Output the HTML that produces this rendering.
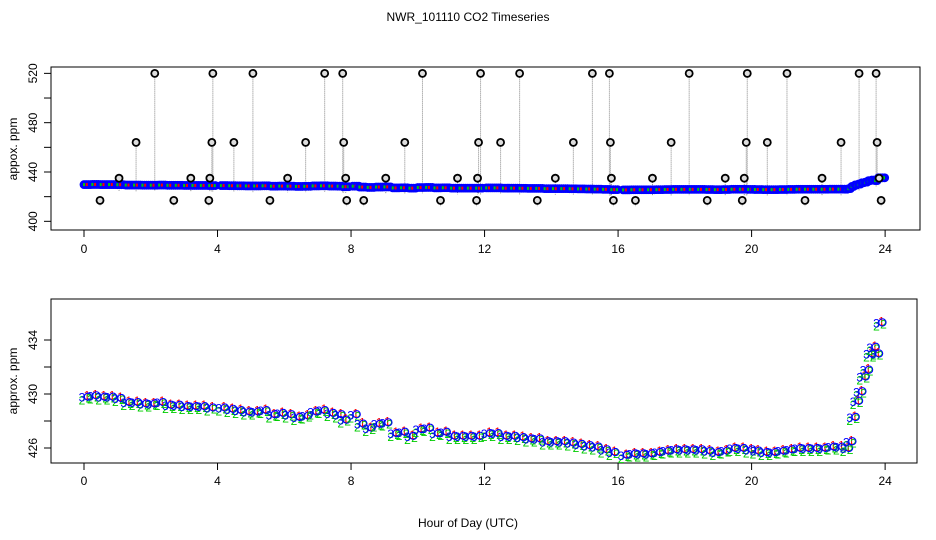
<!DOCTYPE html>
<html><head><meta charset="utf-8"><style>
body{margin:0;background:#fff;}
svg{display:block;font-family:"Liberation Sans",sans-serif;}
</style></head><body>
<svg id="c" width="936" height="540" viewBox="0 0 936 540">
<text x="468" y="21" font-size="12" text-anchor="middle">NWR_101110  CO2 Timeseries</text>
<text x="468" y="527" font-size="12" text-anchor="middle">Hour of Day (UTC)</text>
<text transform="translate(17,149) rotate(-90)" font-size="12" text-anchor="middle">appox. ppm</text>
<text transform="translate(17,381) rotate(-90)" font-size="12" text-anchor="middle">approx. ppm</text>
<rect x="51" y="67" width="869" height="163" fill="none" stroke="#000"/>
<rect x="51" y="299" width="866" height="164" fill="none" stroke="#000"/>
<g id="g"></g>
</svg>
<script>
const hours=[0,0.25,0.5,0.75,1,1.25,1.5,1.75,2,2.25,2.5,2.75,3,3.25,3.5,3.75,4.1,4.35,4.6,4.85,5.1,5.35,5.6,5.85,6.1,6.35,6.6,6.85,7.1,7.35,7.6,7.75,8.05,8.25,8.5,8.75,9,9.25,9.5,9.75,10,10.25,10.5,10.75,11,11.25,11.5,11.75,12.05,12.3,12.55,12.8,13.05,13.3,13.55,13.8,14.05,14.3,14.55,14.8,15.05,15.3,15.55,15.8,16.15,16.4,16.65,16.9,17.15,17.4,17.65,17.9,18.15,18.4,18.65,18.9,19.15,19.4,19.65,19.9,20.1,20.35,20.6,20.85,21.1,21.35,21.6,21.85,22.1,22.35,22.6,22.8,22.9,23.0,23.1,23.2,23.3,23.4,23.5,23.6,23.7,23.8];
const ppm=[429.8,429.9,429.8,429.8,429.7,429.4,429.4,429.3,429.3,429.4,429.2,429.2,429.1,429.1,429.1,429.0,429.0,428.9,428.8,428.7,428.7,428.8,428.5,428.6,428.5,428.3,428.4,428.7,428.8,428.6,428.5,428.1,428.5,427.8,427.5,427.8,427.9,427.1,427.2,426.9,427.4,427.5,427.1,427.2,426.9,426.9,426.9,426.9,427.1,427.1,426.9,426.9,426.8,426.7,426.7,426.5,426.5,426.5,426.4,426.3,426.2,426.1,425.9,425.7,425.5,425.6,425.6,425.6,425.7,425.8,425.9,425.9,425.9,425.9,425.8,425.7,425.8,426.0,426.0,425.9,425.8,425.7,425.7,425.8,425.9,426.0,426.0,426.0,426.0,426.1,426.1,426.0,426.5,428.3,429.5,430.2,431.3,431.8,433.0,433.5,433.0,435.3];
const spikeHours=[0.48,1.05,1.56,2.12,2.69,3.2,3.74,3.77,3.83,3.86,4.49,5.06,5.57,6.1,6.64,7.21,7.75,7.78,7.84,7.87,8.38,9.04,9.61,10.14,10.68,11.19,11.76,11.79,11.82,11.88,12.48,13.05,13.58,14.12,14.66,15.23,15.74,15.77,15.8,15.86,16.52,17.03,17.59,18.13,18.67,19.21,19.72,19.78,19.84,19.87,20.47,21.06,21.6,22.11,22.68,23.22,23.73,23.76,23.82,23.88];
const spikeVals=[417,435,464,520,417,435,417,435,464,520,464,520,417,435,464,520,520,464,435,417,417,435,464,520,417,435,417,435,464,520,464,520,417,435,464,520,520,464,435,417,417,435,464,520,417,435,417,435,464,520,464,520,417,435,464,520,520,464,435,417];
const xTicks=[0,4,8,12,16,20,24];
const topYTicks=[400,420,440,460,480,500,520];
const topYLabels=[400,440,480,520];
const botYTicks=[426,428,430,432,434];
const botYLabels=[426,430,434];
const NS='http://www.w3.org/2000/svg';
const g=document.getElementById('g');
function el(t,a,txt){const e=document.createElementNS(NS,t);for(const k in a)e.setAttribute(k,a[k]);if(txt!==undefined)e.textContent=txt;g.appendChild(e);return e;}
const X=h=>84+h*33.38;
const YT=v=>172-(v-440)*1.233;
const YB=v=>394-(v-430)*13.5;
function baseAt(h){let best=0;for(let i=0;i<hours.length;i++){if(Math.abs(hours[i]-h)<Math.abs(hours[best]-h))best=i;}return ppm[best];}
for(const t of xTicks){
  for(const [yb,lab] of [[230,253],[463,485]]){
    const l=el('line',{x1:X(t),x2:X(t),y1:yb,y2:yb+7,stroke:'#000'});
    
    const tx=el('text',{x:X(t),y:lab,'font-size':12,'text-anchor':'middle'},String(t));
    
  }
}
for(const v of topYTicks){const l=el('line',{x1:44,x2:51,y1:YT(v),y2:YT(v),stroke:'#000'});}
for(const v of topYLabels){const t=el('text',{transform:`translate(37,${YT(v)}) rotate(-90)`,'font-size':12,'text-anchor':'middle'},String(v));}
for(const v of botYTicks){const l=el('line',{x1:44,x2:51,y1:YB(v),y2:YB(v),stroke:'#000'});}
for(const v of botYLabels){const t=el('text',{transform:`translate(37,${YB(v)}) rotate(-90)`,'font-size':12,'text-anchor':'middle'},String(v));}
for(let i=0;i<spikeHours.length;i++){
  const h=spikeHours[i],b=baseAt(h);
  const ln=el('line',{x1:X(h),x2:X(h),y1:YT(spikeVals[i]),y2:YT(Math.min(b,spikeVals[i])-5),stroke:'#888','stroke-dasharray':'1,1'});
  
}
for(let i=0;i<hours.length;i++){
  for(let k=0;k<4;k++){
    const h=hours[i]+k*0.0625;if(i<hours.length-1&&h>=hours[i+1])continue;
    const c=el('circle',{cx:X(h),cy:YT(ppm[i]),r:3.2,fill:'none',stroke:'#0000ff','stroke-width':2.4});
    
  }
  for(let k=0;k<3;k++){
    const h=hours[i]+k*0.083;
    const d=el('rect',{x:X(h)-1,y:YT(ppm[i])-1.5,width:2,height:3,fill:k==1?'#ff0000':'#00cc00'});
    
  }
}
for(let i=0;i<spikeHours.length;i++){
  const c=el('circle',{cx:X(spikeHours[i]),cy:YT(spikeVals[i]),r:3.5,fill:'#ddd',stroke:'#000','stroke-width':1.8});
  
}
for(let i=0;i<hours.length;i++){
  const x=X(hours[i]),y=YB(ppm[i]);
  const t1=el('text',{x:x+3,y:y+3,'font-size':12,fill:'#ff0000','text-anchor':'middle'},'1');
  
  const t2=el('text',{x:x-2,y:y+8,'font-size':12,fill:'#00cc00','text-anchor':'middle'},'2');
  
  const t2b=el('text',{x:x+5,y:y+6,'font-size':12,fill:'#00cc00','text-anchor':'middle'},'2');
  
  const t3=el('text',{x:x-2,y:y+5,'font-size':12,fill:'#0000ff','text-anchor':'middle'},'3');
  
  const c=el('circle',{cx:x+4,cy:y,r:3.6,fill:'none',stroke:'#0000ff','stroke-width':1.1});
  
}
</script>
</body></html>
